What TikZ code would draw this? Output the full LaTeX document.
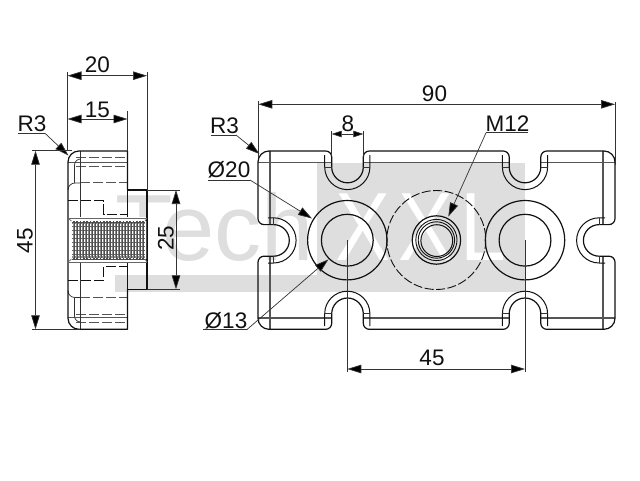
\documentclass[tikz,border=0pt]{standalone}
\usepackage{fontspec}
\setmainfont{Liberation Sans}
\usetikzlibrary{arrows.meta}
\definecolor{wm}{HTML}{DEDEDE}
\definecolor{inkc}{HTML}{111111}
\definecolor{dimc}{HTML}{333333}
\definecolor{midc}{HTML}{555555}
\tikzset{
  x=1pt,y=-1pt,
  outline/.style={draw=inkc,line width=1.2pt},
  innerline/.style={draw=midc,line width=1.1pt},
  thinline/.style={draw=dimc,line width=0.7pt},
  hidden/.style={draw=inkc,line width=0.9pt,dash pattern=on 10pt off 3pt},
  dimline/.style={draw=dimc,line width=0.7pt},
  dimboth/.style={dimline,{Triangle[length=14pt,width=8.5pt,fill=black]}-{Triangle[length=14pt,width=8.5pt,fill=black]}},
  dimsmall/.style={dimline,{Triangle[length=10pt,width=6.5pt,fill=black]}-{Triangle[length=10pt,width=6.5pt,fill=black]}},
  leader/.style={dimline,-{Triangle[length=14pt,width=8.5pt,fill=black]}},
  lab/.style={font=\fontsize{22.5}{26}\selectfont,text=inkc,inner sep=0pt},
  wmlet/.style={font=\fontsize{97}{100}\selectfont,inner sep=0pt,anchor=base west},
}
\begin{document}
\begin{tikzpicture}
\useasboundingbox (0,0) rectangle (640,480);
\fill[white] (0,0) rectangle (640,480);
% watermark
\node[wmlet,text=wm,font=\fontsize{94}{100}\selectfont] (wmtech) at (115,260) {Tech};
\fill[wm] (317,162.7) rectangle (525,291.7);
\fill[wm] (115,275) rectangle (525,291.7);
\node[wmlet,text=white,transform shape,xscale=0.85] (wmxa) at (335,260) {X};
\node[wmlet,text=white,transform shape,xscale=0.85] (wmxb) at (398,260) {X};
\node[wmlet,text=white,transform shape,xscale=0.85] (wml) at (460,260) {L};

% ---------- right view ----------
\draw[innerline] (258,162.7) -- (331.7,162.7) (363.3,162.7) -- (509.2,162.7) (540.8,162.7) -- (615,162.7);
\draw[innerline] (258,318) -- (331.7,318) (363.3,318) -- (509.2,318) (540.8,318) -- (615,318);
\draw[innerline] (270,151) -- (270,224.6) (270,256.2) -- (270,329.3);
\draw[innerline] (603,151) -- (603,224.6) (603,256.2) -- (603,329.3);
\draw[outline,line join=round]
  (269,151) -- (325.7,151) arc[start angle=270,end angle=360,radius=6] -- (331.7,167)
  arc[start angle=180,end angle=0,radius=15.8] -- (363.3,157)
  arc[start angle=180,end angle=270,radius=6] -- (503.2,151)
  arc[start angle=270,end angle=360,radius=6] -- (509.2,167)
  arc[start angle=180,end angle=0,radius=15.8] -- (540.8,157)
  arc[start angle=180,end angle=270,radius=6] -- (604,151)
  arc[start angle=270,end angle=360,radius=11] -- (615,218.6)
  arc[start angle=0,end angle=90,radius=6] -- (599.2,224.6)
  arc[start angle=270,end angle=90,radius=15.8] -- (609,256.2)
  arc[start angle=270,end angle=360,radius=6] -- (615,318.3)
  arc[start angle=0,end angle=90,radius=11] -- (546.8,329.3)
  arc[start angle=90,end angle=180,radius=6] -- (540.8,313.8)
  arc[start angle=0,end angle=-180,radius=15.8] -- (509.2,323.3)
  arc[start angle=0,end angle=90,radius=6] -- (369.3,329.3)
  arc[start angle=90,end angle=180,radius=6] -- (363.3,313.8)
  arc[start angle=0,end angle=-180,radius=15.8] -- (331.7,323.3)
  arc[start angle=0,end angle=90,radius=6] -- (269,329.3)
  arc[start angle=90,end angle=180,radius=11] -- (258,262.2)
  arc[start angle=180,end angle=270,radius=6] -- (273.5,256.2)
  arc[start angle=90,end angle=-90,radius=15.8] -- (264,224.6)
  arc[start angle=90,end angle=180,radius=6] -- (258,162)
  arc[start angle=180,end angle=270,radius=11] -- cycle;
% outer notch arcs
\foreach \cx in {347.3,525}{
  \draw[outline,line width=1pt] (\cx-22.6,155) -- (\cx-22.6,167) arc[start angle=180,end angle=0,radius=22.6] -- (\cx+22.6,155);
  \draw[outline,line width=1pt] (\cx-22.6,326) -- (\cx-22.6,313.8) arc[start angle=180,end angle=360,radius=22.6] -- (\cx+22.6,326);
  \draw[thinline] (\cx-22.6,167) -- (\cx-15.8,167) (\cx+15.8,167) -- (\cx+22.6,167);
  \draw[thinline] (\cx-22.6,313.8) -- (\cx-15.8,313.8) (\cx+15.8,313.8) -- (\cx+22.6,313.8);
}
\draw[outline,line width=1pt] (268,217.8) -- (273.5,217.8) arc[start angle=-90,end angle=90,radius=22.6] -- (268,263);
\draw[thinline] (273.5,217.8) -- (273.5,224.6) (273.5,256.2) -- (273.5,263);
\draw[outline,line width=1pt] (605,217.8) -- (599.2,217.8) arc[start angle=270,end angle=90,radius=22.6] -- (605,263);
\draw[thinline] (599.2,217.8) -- (599.2,224.6) (599.2,256.2) -- (599.2,263);
% holes
\foreach \cx in {347.3,525}{
  \draw[outline] (\cx,240.2) circle[radius=39.7];
  \draw[outline] (\cx,240.2) circle[radius=25.9];
}
\draw[hidden,dash pattern=on 9pt off 2.5pt] (436.3,240) circle[radius=49.5];
\draw[outline] (436.4,240) circle[radius=24.2];
\draw[outline,line width=0.9pt] (436.4,240) circle[radius=20.6];
\draw[outline,line width=0.9pt] (436.4,240) circle[radius=18.2];
\draw[outline,line width=1pt] (436.8,240.6) circle[radius=15.9];

% ---------- left view ----------
\foreach \yy in {157.3,166.7,314,322.7}{\draw[hidden,draw=midc] (76,\yy) -- (127.5,\yy);}
\draw[hidden,draw=midc] (80,182.7) -- (127.5,182.7);
\draw[hidden,draw=midc] (80,297.5) -- (127.5,297.5);
\draw[innerline] (68,162.7) -- (127.5,162.7) (68,317.5) -- (127.5,317.5);
\draw[thinline] (68,190) arc[start angle=180,end angle=270,radius=7] -- (80,183);
\draw[thinline] (68,290.5) arc[start angle=180,end angle=90,radius=7] -- (80,297.5);
\draw[thinline] (74.5,183) -- (74.5,165) arc[start angle=180,end angle=270,radius=6] (74.5,297.5) -- (74.5,316) arc[start angle=180,end angle=90,radius=6];
\draw[hidden,line width=0.8pt] (68,200.7) -- (103.5,200.7) -- (103.5,214) -- (127.5,214);
\draw[hidden,line width=0.8pt] (68,280) -- (103.5,280) -- (103.5,266) -- (127.5,266);
\draw[thinline] (80,151) -- (80,218) (80,262) -- (80,329.3);
\draw[outline] (127.5,190) rectangle (147,289.3);
\draw[outline,line join=round] (127.5,190) -- (127.5,151) -- (79,151) arc[start angle=270,end angle=180,radius=11] -- (68,318.3) arc[start angle=180,end angle=90,radius=11] -- (127.5,329.3) -- (127.5,289.3);
% thread
\fill[white] (68.6,217) rectangle (146.4,263);
\fill[black!45] (71.5,221) rectangle (145,259);
\foreach \i in {0,...,24}{
  \draw[white,line width=0.6pt] (72.5+3*\i,224) -- (72.5+3*\i,256);
  \draw[black!70,line width=0.5pt] (74+3*\i,221) -- (74+3*\i,259);
}
\foreach \yy in {226,230,234,238,242,246,250,254}{\draw[black!60,line width=0.7pt,dash pattern=on 2pt off 1pt] (71.5,\yy) -- (145,\yy);}
\draw[black!70,line width=2pt] (71.5,221.5) -- (145,221.5) (71.5,258.5) -- (145,258.5);
\draw[white,line width=1.2pt,dash pattern=on 1.6pt off 1.7pt] (71.5,221.5) -- (145,221.5) (71.5,258.5) -- (145,258.5);
\draw[thinline,draw=black!60] (68,218) -- (147,218) (68,262) -- (147,262);
\draw[thinline,draw=black!60] (68,218) -- (71.5,221) (147,218) -- (145,221) (68,262) -- (71.5,259) (147,262) -- (145,259);

% ---------- dimensions, left ----------
\coordinate (dl20a) at (67.5,75.7); \coordinate (dl20b) at (147,75.7);
\draw[dimline] (67.5,72) -- (67.5,151) (147,72) -- (147,190);
\draw[dimboth] (dl20a) -- (dl20b);
\node[lab] (t20) at (97.5,65) {20};
\coordinate (dl15a) at (67.5,119); \coordinate (dl15b) at (127.5,119);
\draw[dimline] (127.5,111) -- (127.5,151);
\draw[dimboth] (dl15a) -- (dl15b);
\node[lab] (t15) at (97.5,110) {15};
\node[lab] (tr3a) at (32,124) {R3};
\coordinate (r3au) at (18,133.3); \coordinate (r3ae) at (45,133.3); \coordinate (r3at) at (68.5,155.5);
\draw[dimline] (r3au) -- (r3ae);
\draw[leader] (r3ae) -- (r3at);
\coordinate (d45a) at (35.5,150.7); \coordinate (d45b) at (35.5,329.3);
\draw[dimline] (32,150.7) -- (72,150.7) (32,329.3) -- (80,329.3);
\draw[dimboth] (d45a) -- (d45b);
\node[lab,rotate=90] (t45a) at (25,240.5) {45};
\coordinate (d25a) at (176,190); \coordinate (d25b) at (176,289.3);
\draw[dimline] (147,190) -- (180,190) (147,289.3) -- (180,289.3);
\draw[dimboth] (d25a) -- (d25b);
\node[lab,rotate=90] (t25) at (166,238.3) {25};

% ---------- dimensions, right ----------
\coordinate (d90a) at (258.3,104.3); \coordinate (d90b) at (615,104.3);
\draw[dimline] (258.3,101) -- (258.3,158) (615,102) -- (615,165);
\draw[dimboth] (d90a) -- (d90b);
\node[lab] (t90) at (434.5,94) {90};
\coordinate (d8a) at (331.7,134); \coordinate (d8b) at (363.3,134);
\draw[dimline] (331.7,131) -- (331.7,156) (363.3,131) -- (363.3,156);
\draw[dimsmall] (d8a) -- (d8b);
\node[lab] (t8) at (348,124) {8};
\node[lab] (tr3b) at (224.5,126) {R3};
\coordinate (r3bu) at (211,135); \coordinate (r3be) at (236,135); \coordinate (r3bt) at (259.5,154);
\draw[dimline] (r3bu) -- (r3be);
\draw[leader] (r3be) -- (r3bt);
\node[lab] (tphia) at (229,170) {Ø20};
\coordinate (phiau) at (208,180); \coordinate (phiae) at (250,180); \coordinate (phiat) at (312,218.5);
\draw[dimline] (phiau) -- (phiae);
\draw[leader] (phiae) -- (phiat);
\node[lab] (tphib) at (226,320.5) {Ø13};
\coordinate (phibu) at (203,329.5); \coordinate (phibe) at (247,329.5); \coordinate (phibt) at (328.5,259.3);
\draw[dimline] (phibu) -- (phibe);
\draw[leader] (phibe) -- (phibt);
\node[lab] (tm) at (507.5,124) {M12};
\coordinate (mu) at (528,132.8); \coordinate (me) at (486,132.8); \coordinate (mt) at (448.3,216.7);
\draw[dimline] (mu) -- (me);
\draw[leader] (me) -- (mt);
\coordinate (d45ra) at (347.3,369); \coordinate (d45rb) at (525,369);
\draw[dimline] (347.3,240) -- (347.3,372) (525,240) -- (525,372);
\draw[dimboth] (d45ra) -- (d45rb);
\node[lab] (t45b) at (432,358) {45};
\end{tikzpicture}
\end{document}
